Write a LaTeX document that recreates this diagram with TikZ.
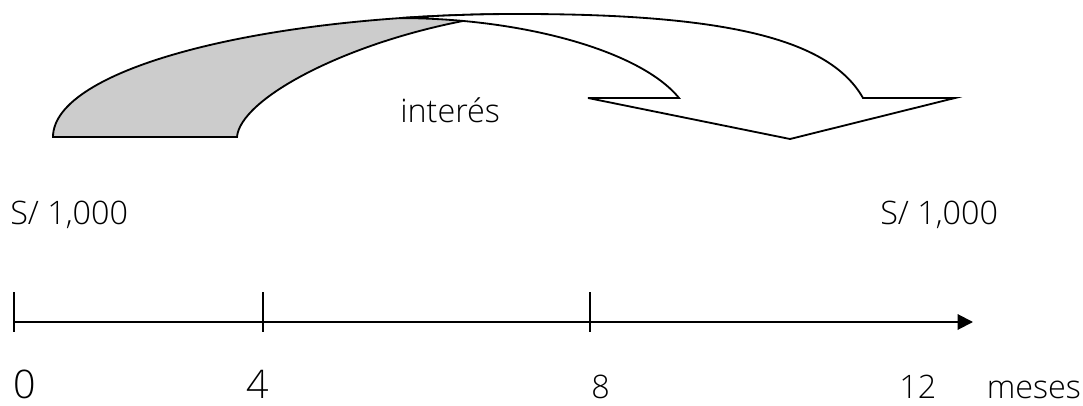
\documentclass[tikz,border=0pt]{standalone}
\usepackage{fontspec}
\setmainfont{Open Sans}[UprightFont={* Light}]
\usepackage{tikz}
\usetikzlibrary{arrows.meta, positioning}
\tikzstyle{amount}   = [inner sep=0pt, anchor=base west, font=\fontsize{23}{27}\selectfont]
\tikzstyle{bigmonth} = [inner sep=0pt, anchor=base west, font=\fontsize{28}{32}\selectfont]
\tikzstyle{month}    = [inner sep=0pt, anchor=base west, font=\fontsize{23}{27}\selectfont]
\tikzstyle{tickmark} = [line width=1.4pt]
\tikzstyle{timeline} = [line width=1.4pt, -{Triangle[length=11pt, width=11pt]}]
\tikzstyle{band}     = [draw=black, line width=1.3pt, fill=black!20]
\tikzstyle{body}     = [draw=black, line width=1.3pt, fill=white, line join=miter]

\begin{document}
\begin{tikzpicture}[x=0.025cm, y=0.025cm]
    \useasboundingbox (0,0) rectangle (1083,-406);

    % curved arrow: shaded back, then white front
    \path [band] (53,-137) arc[start angle=180, end angle=90, x radius=467, y radius=123]
        -- (463,-21) .. controls (340,-45) and (240,-100) .. (237,-137) -- cycle;
    \path [body] (520,-14) .. controls (730,-14) and (830,-40) .. (863,-98)
        -- (955,-98) -- (790,-139) -- (588,-98) -- (679,-98)
        .. controls (640,-50) and (520,-18) .. (400,-18.1)
        arc[start angle=104.9, end angle=90, x radius=467, y radius=123] -- cycle;
    \node (interes) [month] at (400,-123) {interés};

    \node (capital) [amount] at (10,-225)  {S/ 1,000};
    \node (monto)   [amount] at (880,-225) {S/ 1,000};

    % time line
    \coordinate (t0)  at (14,-322);
    \coordinate (t4)  at (263,-322);
    \coordinate (t8)  at (590,-322);
    \coordinate (t12) at (973,-322);
    \draw [timeline] (t0) -- (t12);
    \foreach \t in {t0, t4, t8}
        \draw [tickmark] ([yshift=21pt]\t) -- ([yshift=-7pt]\t);

    \node (m0)    [bigmonth] at (13,-398)  {0};
    \node (m4)    [bigmonth] at (246,-398) {4};
    \node (m8)    [month]    at (591,-398) {8};
    \node (m12)   [month]    at (899,-398) {12};
    \node (meses) [month, base right=1.25cm of m12] {meses};
\end{tikzpicture}
\end{document}
